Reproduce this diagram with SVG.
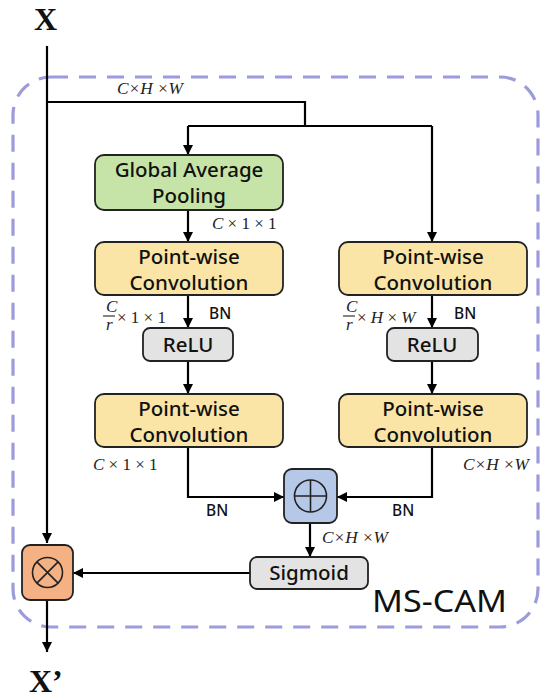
<svg xmlns="http://www.w3.org/2000/svg" width="550" height="698" viewBox="0 0 550 698">
<defs>
<marker id="ah" viewBox="0 0 10 10" refX="10" refY="5" markerWidth="10" markerHeight="10" markerUnits="userSpaceOnUse" orient="auto">
<path d="M0,0 L10,5 L0,10 Z" fill="#000"/>
</marker>
</defs>
<style>
.box{stroke:#222;stroke-width:1.8}
.gap{fill:#c6e4a7}
.pwc{fill:#fbe5a6}
.relu{fill:#e3e3e3}
.plus{fill:#b6c8e8}
.mul{fill:#f4b184}
.t{font-family:"Noto Sans","Liberation Sans",sans-serif;font-size:20.5px;font-weight:500;fill:#111;text-anchor:middle}
.s{font-family:"Noto Sans","Liberation Sans",sans-serif;font-size:15.5px;font-weight:500;fill:#111}
.m{font-family:"Liberation Serif",serif;font-style:italic;font-size:17px;fill:#222}
.u{font-style:normal}
.big{font-family:"Liberation Serif",serif;font-weight:bold;font-size:32px;fill:#111}
.c{fill:none;stroke:#000;stroke-width:2.2}
</style>
<rect x="13" y="77" width="525" height="550" rx="38" fill="none" stroke="#9c9cdc" stroke-width="3.2" stroke-dasharray="17 11"/>
<text class="big" x="34" y="30">X</text>
<text class="big" x="29" y="692">X’</text>
<text x="372" y="612" font-family="Noto Sans,Liberation Sans,sans-serif" font-size="31" fill="#111" textLength="135" lengthAdjust="spacingAndGlyphs">MS-CAM</text>
<g id="connectors">
<path class="c" d="M47,46 V543" marker-end="url(#ah)"/>
<path class="c" d="M47,102 H305 V126"/>
<path class="c" d="M188,126 H432"/>
<path class="c" d="M188,126 V155" marker-end="url(#ah)"/>
<path class="c" d="M432,126 V242" marker-end="url(#ah)"/>
<path class="c" d="M188,210 V242" marker-end="url(#ah)"/>
<path class="c" d="M188,295 V328" marker-end="url(#ah)"/>
<path class="c" d="M432,295 V328" marker-end="url(#ah)"/>
<path class="c" d="M188,361 V394" marker-end="url(#ah)"/>
<path class="c" d="M432,361 V394" marker-end="url(#ah)"/>
<path class="c" d="M188,447 V497 H284" marker-end="url(#ah)"/>
<path class="c" d="M432,447 V497 H337" marker-end="url(#ah)"/>
<path class="c" d="M310,523 V557" marker-end="url(#ah)"/>
<path class="c" d="M250,573 H73" marker-end="url(#ah)"/>
<path class="c" d="M47,600 V652" marker-end="url(#ah)"/>
</g>
<g id="labels">
<text class="m" x="117" y="94" textLength="66" lengthAdjust="spacingAndGlyphs">C×H ×W</text>
<text class="m" x="212" y="229">C <tspan class="u">× 1 × 1</tspan></text>
<text class="m" x="106" y="312">C</text>
<line x1="103" y1="316" x2="115" y2="316" stroke="#222" stroke-width="1.1"/>
<text class="m" x="106" y="330">r</text>
<text class="m u" x="117" y="323">× 1 × 1</text>
<text class="s" x="209" y="319">BN</text>
<text class="m" x="346" y="312">C</text>
<line x1="343" y1="316" x2="355" y2="316" stroke="#222" stroke-width="1.1"/>
<text class="m" x="346" y="330">r</text>
<text class="m" x="357" y="323"><tspan class="u">×</tspan> H <tspan class="u">×</tspan> W</text>
<text class="s" x="454" y="319">BN</text>
<text class="m" x="93" y="470">C <tspan class="u">× 1 × 1</tspan></text>
<text class="m" x="463" y="470" textLength="66" lengthAdjust="spacingAndGlyphs">C×H ×W</text>
<text class="s" x="206" y="516">BN</text>
<text class="s" x="392" y="516">BN</text>
<text class="m" x="322" y="543" textLength="66" lengthAdjust="spacingAndGlyphs">C×H ×W</text>
</g>
<g id="gap"><rect class="box gap" x="95" y="155" width="188" height="55" rx="9"/>
<text class="t" x="189" y="177">Global Average</text><text class="t" x="189" y="203">Pooling</text></g>
<g id="pwc1"><rect class="box pwc" x="95" y="242" width="188" height="53" rx="9"/>
<text class="t" x="189" y="264">Point-wise</text><text class="t" x="189" y="290">Convolution</text></g>
<g id="pwc2"><rect class="box pwc" x="339" y="242" width="188" height="53" rx="9"/>
<text class="t" x="433" y="264">Point-wise</text><text class="t" x="433" y="290">Convolution</text></g>
<g id="relu1"><rect class="box relu" x="143" y="328" width="90" height="33" rx="7"/>
<text class="t" x="188" y="352">ReLU</text></g>
<g id="relu2"><rect class="box relu" x="387" y="328" width="91" height="33" rx="7"/>
<text class="t" x="432" y="352">ReLU</text></g>
<g id="pwc3"><rect class="box pwc" x="95" y="394" width="188" height="53" rx="9"/>
<text class="t" x="189" y="416">Point-wise</text><text class="t" x="189" y="442">Convolution</text></g>
<g id="pwc4"><rect class="box pwc" x="339" y="394" width="188" height="53" rx="9"/>
<text class="t" x="433" y="416">Point-wise</text><text class="t" x="433" y="442">Convolution</text></g>
<g id="add"><rect class="box plus" x="284" y="469" width="53" height="54" rx="8"/>
<circle cx="310.5" cy="496" r="16" fill="none" stroke="#222" stroke-width="1.6"/>
<path d="M294.5,496 H326.5 M310.5,480 V512" stroke="#222" stroke-width="1.6"/></g>
<g id="sigmoid"><rect class="box relu" x="250" y="557" width="118" height="32" rx="7"/>
<text class="t" x="309" y="580">Sigmoid</text></g>
<g id="mul"><rect class="box mul" x="22" y="545" width="51" height="55" rx="8"/>
<circle cx="47.5" cy="572.5" r="15" fill="none" stroke="#222" stroke-width="1.6"/>
<path d="M36.9,561.9 L58.1,583.1 M58.1,561.9 L36.9,583.1" stroke="#222" stroke-width="1.6"/></g>
</svg>
